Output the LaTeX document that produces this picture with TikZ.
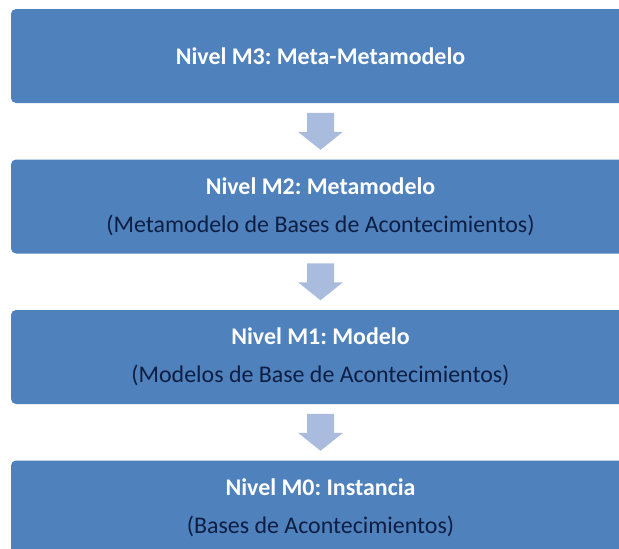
\documentclass[tikz,border=0pt]{standalone}
\usepackage{fontspec}
\setmainfont{Carlito}
\usetikzlibrary{calc}
\definecolor{boxblue}{HTML}{4F81BD}
\definecolor{arrowblue}{HTML}{A9BCDD}
\definecolor{subtext}{HTML}{0E1E42}
\frenchspacing
\begin{document}
\begin{tikzpicture}[x=1pt,y=1pt,
  level/.style={rectangle,rounded corners=5pt,fill=boxblue,minimum width=619pt,minimum height=94pt,
    inner sep=0pt,align=center,font=\fontsize{23.9}{38}\selectfont\frenchspacing},
  blockarrow/.style={fill=arrowblue}]
\useasboundingbox (0,0) rectangle (619,-549);
\node[level] (b1) at (320.5,-56) {\textbf{\color{white}Nivel M3: Meta-Metamodelo}};
\node[level] (b2) at (320.5,-206.5) {\textbf{\color{white}Nivel M2: Metamodelo}\\{\color{subtext}(Metamodelo de Bases de Acontecimientos)}};
\node[level] (b3) at (320.5,-357) {\textbf{\color{white}Nivel M1: Modelo}\\{\color{subtext}(Modelos de Base de Acontecimientos)}};
\node[level] (b4) at (320.5,-507.5) {\textbf{\color{white}Nivel M0: Instancia}\\{\color{subtext}(Bases de Acontecimientos)}};
\foreach \u/\l in {b1/b2,b2/b3,b3/b4}{
  \coordinate (m) at ($(\u.south)!0.5!(\l.north)$);
  \fill[blockarrow] ($(m)+(-13.5,18.5)$) -- ($(m)+(13.5,18.5)$) -- ($(m)+(13.5,-0.5)$) -- ($(m)+(22.5,-0.5)$)
    -- ($(m)+(0,-18.5)$) -- ($(m)+(-22.5,-0.5)$) -- ($(m)+(-13.5,-0.5)$) -- cycle;
}
\end{tikzpicture}
\end{document}
